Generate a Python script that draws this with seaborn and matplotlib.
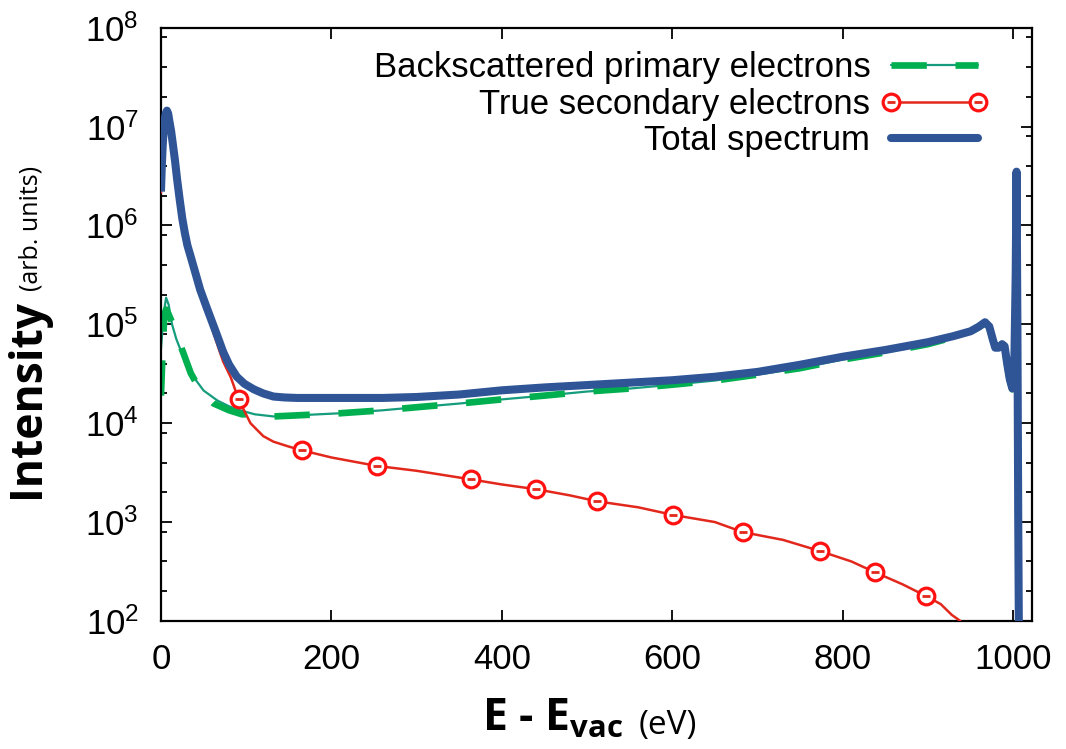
import numpy as np
import matplotlib
matplotlib.use("Agg")
import matplotlib.pyplot as plt
from matplotlib.lines import Line2D
from matplotlib.legend_handler import HandlerTuple
from matplotlib.ticker import LogLocator, NullFormatter
import seaborn as sns

# total spectrum (eV, arb. units)
e_tot = [0, 1, 2, 3, 4, 5.5, 7, 8.5, 10, 12, 14, 16.5, 19, 22, 25, 28, 31, 35, 40, 46,
         54, 62, 68, 73, 80, 89, 98, 109, 120, 132, 145, 160, 210, 260,
         300, 350, 400, 450, 500, 550, 600, 650, 700, 750, 800, 850, 900, 930, 950,
         960, 967, 972, 976, 979, 983, 987, 990, 993, 996, 999, 1001, 1003, 1004,
         1005, 1006, 1007]
i_tot = [2.2e6, 4.0e6, 6.3e6, 8.9e6, 1.12e7, 1.35e7, 1.45e7, 1.35e7, 1.12e7, 8.9e6,
         6.6e6, 4.5e6, 2.9e6, 1.82e6, 1.18e6, 8.4e5, 6.3e5, 4.8e5, 3.4e5, 2.24e5,
         1.45e5, 9.5e4, 6.9e4, 5.25e4, 3.9e4, 2.95e4, 2.5e4, 2.2e4, 2.0e4, 1.86e4,
         1.82e4, 1.8e4, 1.8e4, 1.8e4,
         1.84e4, 1.95e4, 2.15e4, 2.3e4, 2.43e4, 2.57e4, 2.72e4, 2.95e4, 3.3e4, 3.9e4,
         4.7e4, 5.5e4, 6.6e4, 7.6e4, 8.5e4,
         9.5e4, 1.05e5, 9.5e4, 7.1e4, 5.8e4, 5.8e4, 6.3e4, 6.0e4, 4.0e4, 2.8e4, 2.25e4,
         2.5e4, 3.2e5, 3.5e6, 1.0e5, 1.0e3, 30]

# backscattered primary electrons
e_bse = [0, 3, 6, 9, 13, 18, 23, 30, 38, 50, 66, 80, 93, 110, 132, 160, 210, 260,
         300, 350, 400, 450, 500, 550, 600, 650, 700, 750, 800, 850, 900, 930, 950,
         960, 967, 972, 976, 979, 983, 987, 990, 993, 996, 999, 1001, 1003, 1004,
         1005, 1006, 1007]
i_bse = [5.6e4, 1.26e5, 1.86e5, 1.58e5, 1.0e5, 7.1e4, 5.5e4, 4.0e4, 2.95e4, 2.14e4,
         1.7e4, 1.48e4, 1.35e4, 1.23e4, 1.17e4, 1.2e4, 1.26e4, 1.35e4,
         1.45e4, 1.58e4, 1.74e4, 1.9e4, 2.09e4, 2.24e4, 2.45e4, 2.7e4, 3.1e4, 3.6e4,
         4.4e4, 5.2e4, 6.3e4, 7.4e4, 8.4e4,
         9.4e4, 1.03e5, 9.4e4, 7.0e4, 5.7e4, 5.7e4, 6.2e4, 5.9e4, 3.9e4, 2.75e4, 2.2e4,
         2.45e4, 3.1e5, 3.4e6, 9.8e4, 9.8e2, 30]

# smoothed low-energy part of the dashed backscattered curve
e_bse_lo = [0, 2, 4, 6, 9, 14, 20, 26, 35, 45, 62, 80, 95]
i_bse_lo = [1.9e4, 5.6e4, 1.26e5, 1.41e5, 1.26e5, 1.0e5, 7.1e4, 5.2e4, 3.2e4,
            2.24e4, 1.58e4, 1.35e4, 1.23e4]

# true secondary electrons
e_sec = [0, 1, 2, 3, 4, 5.5, 7, 8.5, 10, 12, 14, 16.5, 19, 22, 25, 28, 31, 35, 40, 46,
         54, 62, 68, 73, 82, 91, 105, 120, 132, 150,
         166, 200, 253, 300, 364, 400, 440, 480, 512, 560, 601, 650, 683, 730, 773,
         810, 838, 870, 898, 915, 928, 938, 942]
i_sec = [2.15e6, 3.9e6, 6.2e6, 8.7e6, 1.1e7, 1.33e7, 1.43e7, 1.33e7, 1.1e7, 8.7e6,
         6.5e6, 4.4e6, 2.85e6, 1.78e6, 1.15e6, 8.2e5, 6.1e5, 4.6e5, 3.3e5, 2.1e5,
         1.35e5, 8.0e4, 5.6e4, 4.2e4, 2.9e4, 1.75e4, 1.0e4, 7.4e3, 6.5e3, 5.8e3,
         5.3e3, 4.5e3, 3.7e3, 3.3e3, 2.7e3, 2.4e3, 2.15e3, 1.86e3, 1.62e3, 1.41e3,
         1.18e3, 1.0e3, 7.9e2, 6.6e2, 5.1e2,
         4.0e2, 3.1e2, 2.35e2, 1.78e2, 1.48e2, 1.15e2, 1.0e2, 50]
e_sec_marks = [91, 166, 253, 364, 440, 512, 601, 683, 773, 838, 898]

labels = ["Backscattered primary electrons", "True secondary electrons", "Total spectrum"]
xticks = [0, 200, 400, 600, 800, 1000]

c_blue = "#2f5597"
c_green = "#00b050"
c_teal = "#159c7c"
c_red = "#e2281c"
c_mark = "#ff1111"

sns.set_theme(style="ticks")
plt.rcParams["font.family"] = ["Liberation Sans", "DejaVu Sans"]
plt.rcParams["mathtext.fontset"] = "custom"
plt.rcParams["mathtext.bf"] = "Open Sans:bold"
plt.rcParams["mathtext.default"] = "regular"
for k in ["text.color", "axes.labelcolor", "xtick.color", "ytick.color",
          "xtick.labelcolor", "ytick.labelcolor"]:
    plt.rcParams[k] = "black"

fig = plt.figure(figsize=(10.66, 7.49), dpi=100)
ax = fig.add_axes([0.151, 0.171, 0.817, 0.792])

# backscattered: thin raw line + thick dashed line
sns.lineplot(x=e_bse, y=i_bse, ax=ax, color=c_teal, linewidth=1.6,
             estimator=None, sort=False, zorder=2)
e_dash = e_bse_lo + [e for e in e_bse if e > 100]
i_dash = i_bse_lo + [v for e, v in zip(e_bse, i_bse) if e > 100]
sns.lineplot(x=e_dash, y=i_dash, ax=ax, color=c_green, linewidth=4.8,
             estimator=None, sort=False, zorder=2.1)
ax.lines[-1].set_dashes([5.3, 4.3])

# secondaries with open circles
mark_idx = [int(np.argmin(np.abs(np.array(e_sec) - e))) for e in e_sec_marks]
sns.lineplot(x=e_sec, y=i_sec, ax=ax, color=c_red, linewidth=1.8, marker="o",
             markersize=12, markerfacecolor="white", markeredgecolor=c_mark,
             markeredgewidth=2.3, markevery=mark_idx, estimator=None, sort=False,
             zorder=3)
sns.scatterplot(x=[e_sec[i] for i in mark_idx], y=[i_sec[i] for i in mark_idx],
                ax=ax, marker="_", s=30, color=c_red, linewidth=2.0, zorder=3.1)

# total
sns.lineplot(x=e_tot, y=i_tot, ax=ax, color=c_blue, linewidth=5.8,
             solid_joinstyle="round", solid_capstyle="butt",
             estimator=None, sort=False, zorder=4)

ax.set_yscale("log")
ax.set_xlim(0, 1022)
ax.set_ylim(1e2, 1e8)
ax.set_xticks(xticks)
ax.yaxis.set_major_locator(LogLocator(base=10, numticks=10))
ax.yaxis.set_minor_locator(LogLocator(base=10, subs=(2.0, 4.0, 8.0), numticks=10))
ax.yaxis.set_minor_formatter(NullFormatter())
ax.tick_params(which="both", direction="in", top=True, right=True, width=1.3,
               color="black")
ax.tick_params(which="major", length=8, labelsize=25)
ax.tick_params(axis="y", which="major", pad=16)
ax.tick_params(axis="x", which="major", pad=16)
ax.tick_params(which="minor", length=4.5)
for s in ax.spines.values():
    s.set_linewidth(1.6)
    s.set_color("black")

# axis labels
ax.set_xlabel(r"E - E$_{\mathbf{vac}}$", family="Open Sans", fontweight="bold",
              fontsize=32)
ax.xaxis.set_label_coords(0.45, -0.128)
ax.annotate("(eV)", xy=(1, 0), xycoords=ax.xaxis.label, xytext=(11, 0),
            textcoords="offset points", ha="left", va="bottom",
            family="Open Sans", fontsize=24)
ax.set_ylabel("Intensity", family="Open Sans", fontweight="bold", fontsize=32)
ax.yaxis.set_label_coords(-0.127, 0.375)
ax.annotate("(arb. units)", xy=(1, 1), xycoords=ax.yaxis.label, xytext=(-5, 6),
            textcoords="offset points", ha="right", va="bottom", rotation=90,
            family="Open Sans", fontsize=18)

# legend
h_bse = (Line2D([], [], color=c_teal, linewidth=1.6),
         Line2D([], [], color=c_green, linewidth=4.8, dashes=[5.3, 4.3]))
h_sec = (Line2D([], [], color=c_red, linewidth=1.8, marker="o", markersize=12,
                markerfacecolor="white", markeredgecolor=c_mark, markeredgewidth=2.3),
         Line2D([], [], color=c_red, linestyle="none", marker="_", markersize=6,
                markeredgewidth=2.0))
h_tot = Line2D([], [], color=c_blue, linewidth=5.8)
ax.legend([h_bse, h_sec, h_tot], labels, loc="upper right",
          bbox_to_anchor=(0.95, 0.96), frameon=False, markerfirst=False,
          fontsize=25, handlelength=3.1, handletextpad=0.3, labelspacing=0.1,
          borderpad=0, borderaxespad=0, numpoints=2,
          handler_map={tuple: HandlerTuple(ndivide=1)})

fig.savefig("out.png", dpi=100)
